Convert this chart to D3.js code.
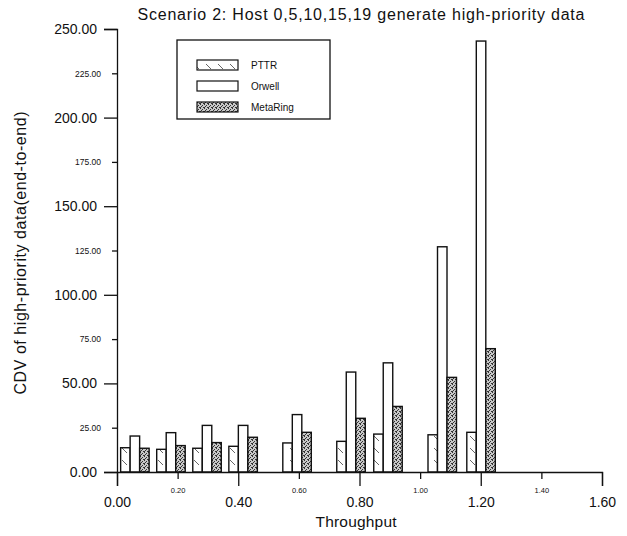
<!DOCTYPE html>
<html>
<head>
<meta charset="utf-8">
<script src="https://cdn.jsdelivr.net/npm/d3@7/dist/d3.min.js"></script>
<style>
  html, body { margin: 0; padding: 0; background: #fff; }
  svg { display: block; }
  text { font-family: "Liberation Sans", Arial, Helvetica, sans-serif; fill: #111; }
</style>
</head>
<body>
<script>
// Throughput of each measured point (centre of the group of bars)
const throughput = [0.059, 0.178, 0.297, 0.416, 0.594, 0.772, 0.894, 1.073, 1.201];
// CDV of high-priority data (end-to-end) for each protocol
const pttr     = [13.7, 12.8, 13.4, 14.5, 16.4, 17.3, 21.4, 21.0, 22.4];
const orwell   = [20.3, 22.2, 26.3, 26.3, 32.4, 56.4, 61.6, 127.1, 243.2];
const metaring = [13.4, 14.9, 16.6, 19.6, 22.4, 30.3, 37.0, 53.4, 69.6];

const seriesNames = ["PTTR", "Orwell", "MetaRing"];

// Axis ticks: large labelled majors, small labelled minors
const yMajorTicks = [0, 50, 100, 150, 200, 250];
const yMinorTicks = [25, 75, 125, 175, 225];
const xMajorTicks = [0.0, 0.4, 0.8, 1.2, 1.6];
const xMinorTicks = [0.2, 0.6, 1.0, 1.4];

const W = 627, H = 536;
const svg = d3.select("body").append("svg").attr("width", W).attr("height", H);

const x = d3.scaleLinear().domain([0, 1.6]).range([117, 602]);
const y = d3.scaleLinear().domain([0, 250]).range([472, 29]);

// Fill patterns
const defs = svg.append("defs");
const hatch = defs.append("pattern").attr("id", "hatch")
  .attr("patternUnits", "userSpaceOnUse").attr("width", 12).attr("height", 12);
hatch.append("rect").attr("width", 12).attr("height", 12).attr("fill", "#fff");
hatch.append("path").attr("d", "M2,4 L7,9").attr("stroke", "#555").attr("stroke-width", 0.9);

const dots = defs.append("pattern").attr("id", "dots")
  .attr("patternUnits", "userSpaceOnUse").attr("width", 4).attr("height", 4);
dots.append("rect").attr("width", 4).attr("height", 4).attr("fill", "#c8c8c8");
[[0,0],[2,1],[1,2],[3,3],[0,3]].forEach(([a, b]) =>
  dots.append("rect").attr("x", a).attr("y", b).attr("width", 1).attr("height", 1).attr("fill", "#333"));

const fills = { PTTR: "url(#hatch)", Orwell: "#fff", MetaRing: "url(#dots)" };

// Bars
const barW = 9.5;
const rows = throughput.map((t, i) => ({ t, vals: [pttr[i], orwell[i], metaring[i]] }));
const g = svg.append("g");
rows.forEach(r => {
  r.vals.forEach((v, k) => {
    const cx = x(r.t) + (k - 1) * barW;
    g.append("rect")
      .attr("x", cx - barW / 2)
      .attr("y", y(v))
      .attr("width", barW)
      .attr("height", y(0) - y(v))
      .attr("fill", fills[seriesNames[k]])
      .attr("stroke", "#111")
      .attr("stroke-width", 1.4);
  });
});

const fmt = d3.format(".2f");

// Y axis
const yA = svg.append("g").attr("transform", `translate(${x(0)},0)`)
  .call(d3.axisLeft(y).tickValues(yMajorTicks).tickSize(13).tickPadding(7).tickFormat(fmt));
yA.selectAll("text").attr("font-size", 14);
const yB = svg.append("g").attr("transform", `translate(${x(0)},0)`)
  .call(d3.axisLeft(y).tickValues(yMinorTicks).tickSize(5).tickPadding(11).tickFormat(fmt));
yB.selectAll("text").attr("font-size", 8.5);
yB.select(".domain").remove();

// X axis
const xA = svg.append("g").attr("transform", `translate(0,${y(0)})`)
  .call(d3.axisBottom(x).tickValues(xMajorTicks).tickSize(14).tickPadding(11).tickFormat(fmt));
xA.selectAll("text").attr("font-size", 14);
const xB = svg.append("g").attr("transform", `translate(0,${y(0)})`)
  .call(d3.axisBottom(x).tickValues(xMinorTicks).tickSize(7).tickPadding(9).tickFormat(fmt));
xB.selectAll("text").attr("font-size", 7.5);
xB.select(".domain").remove();

svg.selectAll(".domain, .tick line").attr("stroke", "#111").attr("stroke-width", 1.3);
svg.selectAll(".tick text").attr("fill", "#111");

// Titles
svg.append("text").attr("x", 361).attr("y", 20).attr("text-anchor", "middle")
  .attr("font-size", 16).attr("textLength", 447).attr("lengthAdjust", "spacing")
  .text("Scenario 2: Host 0,5,10,15,19 generate high-priority data");
svg.append("text").attr("x", 356).attr("y", 527).attr("text-anchor", "middle")
  .attr("font-size", 15.5).attr("textLength", 81).attr("lengthAdjust", "spacing")
  .text("Throughput");
svg.append("text").attr("transform", "translate(26,253) rotate(-90)")
  .attr("text-anchor", "middle").attr("font-size", 16)
  .attr("textLength", 283).attr("lengthAdjust", "spacing")
  .text("CDV of high-priority data(end-to-end)");

// Legend
const lg = svg.append("g");
lg.append("rect").attr("x", 177).attr("y", 40).attr("width", 153).attr("height", 79)
  .attr("fill", "none").attr("stroke", "#111").attr("stroke-width", 1.3);
seriesNames.forEach((name, k) => {
  const yy = 60 + k * 21;
  lg.append("rect").attr("x", 197).attr("y", yy).attr("width", 41).attr("height", 10)
    .attr("fill", fills[name]).attr("stroke", "#111").attr("stroke-width", 1.2);
  lg.append("text").attr("x", 251).attr("y", yy + 9).attr("font-size", 10).text(name);
});
</script>
</body>
</html>
